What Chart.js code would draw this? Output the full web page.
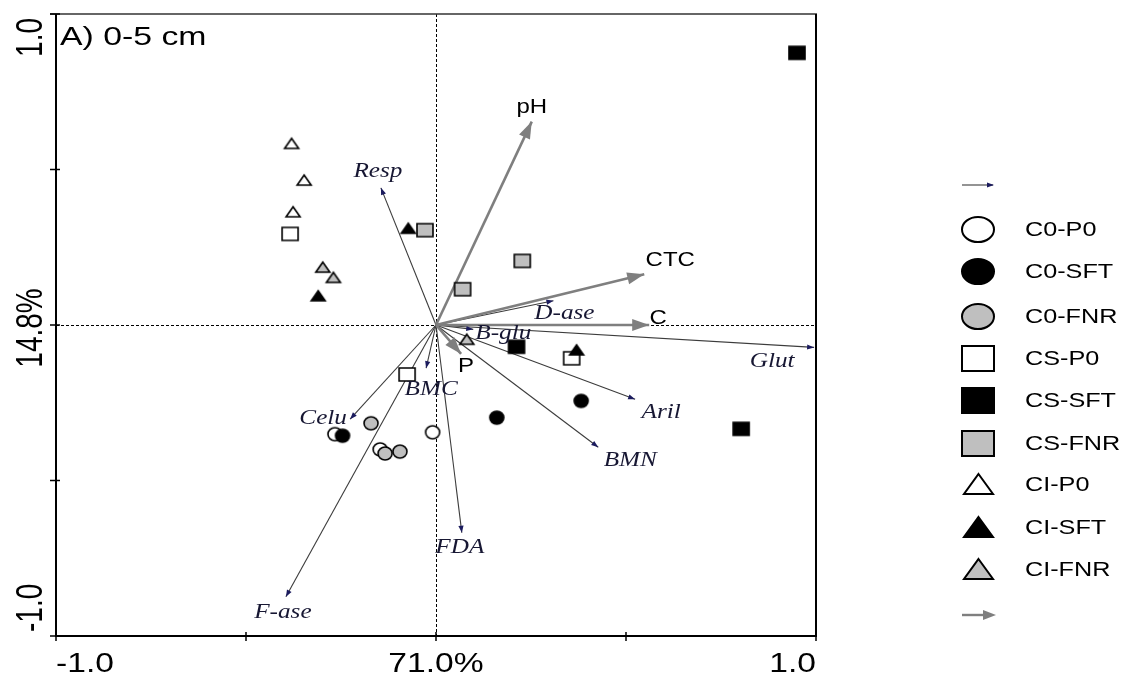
<!DOCTYPE html>
<html>
<head>
<meta charset="utf-8">
<title>A) 0-5 cm</title>
<script src="https://cdn.jsdelivr.net/npm/chart.js@4/dist/chart.umd.min.js"></script>
<style>
  html, body { margin: 0; padding: 0; background: #ffffff; }
  #wrap { width: 1121px; height: 674px; position: relative; }
  canvas { display: block; }
</style>
</head>
<body>
<div id="wrap"><canvas id="biplot" width="1121" height="674"></canvas></div>
<script>
// ---- Axis ticks ----
const axisTicks = [-1, -0.5, 0, 0.5, 1];
const xTickLabels = ['-1.0', '', '71.0%', '', '1.0'];
const yTickLabels = ['-1.0', '', '14.8%', '', '1.0'];
const panelTitle = 'A) 0-5 cm';

// ---- Sample scores (axis 1, axis 2) per treatment ----
const groupNames = ['C0-P0', 'C0-SFT', 'C0-FNR', 'CS-P0', 'CS-SFT', 'CS-FNR', 'CI-P0', 'CI-SFT', 'CI-FNR'];
const c0p0X  = [-0.009, -0.266, -0.147];
const c0p0Y  = [-0.345, -0.351, -0.400];
const c0sftX = [-0.246, 0.160, 0.382];
const c0sftY = [-0.356, -0.298, -0.244];
const c0fnrX = [-0.171, -0.134, -0.095];
const c0fnrY = [-0.316, -0.413, -0.407];
const csp0X  = [-0.384, -0.076, 0.357];
const csp0Y  = [0.293, -0.159, -0.107];
const cssftX = [0.950, 0.212, 0.803];
const cssftY = [0.875, -0.070, -0.334];
const csfnrX = [-0.029, 0.227, 0.070];
const csfnrY = [0.305, 0.206, 0.115];
const cip0X  = [-0.380, -0.347, -0.376];
const cip0Y  = [0.584, 0.466, 0.364];
const cisftX = [-0.073, -0.310, 0.370];
const cisftY = [0.311, 0.094, -0.080];
const cifnrX = [-0.298, -0.270, 0.081];
const cifnrY = [0.186, 0.153, -0.046];

// ---- Biological response variables (thin arrows) ----
const bioNames = ['Resp', 'D-ase', 'B-glu', 'Glut', 'Aril', 'BMN', 'FDA', 'F-ase', 'Celu', 'BMC'];
const bioX = [-0.145, 0.309, 0.098, 0.995, 0.524, 0.427, 0.068, -0.395, -0.226, -0.026];
const bioY = [0.441, 0.078, -0.014, -0.072, -0.239, -0.393, -0.668, -0.874, -0.303, -0.139];

// ---- Soil explanatory variables (thick grey arrows) ----
const envNames = ['pH', 'CTC', 'C', 'P'];
const envX = [0.252, 0.548, 0.561, 0.066];
const envY = [0.654, 0.163, 0.000, -0.093];

// ---- Styling ----
const GREY_FILL = '#bfbfbf';
const BIO_LINE = '#3c3c3c';
const BIO_HEAD = '#1b1b5e';
const BIO_TEXT = '#171733';
const ENV_LINE = '#7f7f7f';
const TEXT_STRETCH = 1.2;

// label placement relative to arrow tips, in pixels
const labelShift = {
  'Resp': [-3, -16], 'D-ase': [11, 13], 'B-glu': [30, 4], 'Glut': [-42, 14], 'Aril': [26, 13],
  'BMN': [32, 13], 'FDA': [-2, 15], 'F-ase': [-3, 16], 'Celu': [-27, -1], 'BMC': [5, 21],
  'pH': [0, -14], 'CTC': [26, -14], 'C': [9, -7], 'P': [5, 13]
};

const groupStyle = [
  ['circle', '#ffffff'], ['circle', '#000000'], ['circle', GREY_FILL],
  ['square', '#ffffff'], ['square', '#000000'], ['square', GREY_FILL],
  ['triangle', '#ffffff'], ['triangle', '#000000'], ['triangle', GREY_FILL]
];
const plotSize = { circle: [14, 13], square: [16, 13], triangle: [14, 10] };
const legendSize = { circle: [32, 25], square: [32, 25], triangle: [29, 20] };

function makeMarker(shape, fill, w, h, lw) {
  const pad = Math.ceil(lw) + 1;
  const cv = document.createElement('canvas');
  cv.width = w + 2 * pad;
  cv.height = h + 2 * pad;
  const g = cv.getContext('2d');
  g.fillStyle = fill;
  g.strokeStyle = '#000000';
  g.lineWidth = lw;
  g.lineJoin = 'miter';
  const cx = cv.width / 2, cy = cv.height / 2;
  g.beginPath();
  if (shape === 'circle') {
    g.ellipse(cx, cy, w / 2, h / 2, 0, 0, Math.PI * 2);
  } else if (shape === 'square') {
    g.rect(cx - w / 2, cy - h / 2, w, h);
  } else {
    g.moveTo(cx, cy - h / 2);
    g.lineTo(cx + w / 2, cy + h / 2);
    g.lineTo(cx - w / 2, cy + h / 2);
    g.closePath();
  }
  g.fill();
  g.stroke();
  return cv;
}

const groupX = [c0p0X, c0sftX, c0fnrX, csp0X, cssftX, csfnrX, cip0X, cisftX, cifnrX];
const groupY = [c0p0Y, c0sftY, c0fnrY, csp0Y, cssftY, csfnrY, cip0Y, cisftY, cifnrY];

const datasets = [];
groupNames.forEach((name, i) => {
  const [shape, fill] = groupStyle[i];
  const [w, h] = plotSize[shape];
  datasets.push({
    label: name,
    kind: 'sample',
    data: groupX[i].map((x, k) => ({ x: x, y: groupY[i][k] })),
    pointStyle: makeMarker(shape, fill, w, h, 1.6),
    pointRadius: 7,
    showLine: false,
    order: groupNames.length - i,
    clip: false
  });
});
bioNames.forEach((name, i) => {
  datasets.push({
    label: name,
    kind: 'bio',
    data: [{ x: 0, y: 0 }, { x: bioX[i], y: bioY[i] }],
    showLine: true,
    borderColor: BIO_LINE,
    borderWidth: 1.1,
    pointRadius: 0,
    order: 100,
    clip: false
  });
});
envNames.forEach((name, i) => {
  datasets.push({
    label: name,
    kind: 'env',
    data: [{ x: 0, y: 0 }, { x: envX[i], y: envY[i] }],
    showLine: true,
    borderColor: ENV_LINE,
    borderWidth: 2.6,
    pointRadius: 0,
    order: 90,
    clip: false
  });
});

// stretched text, optionally rotated a quarter turn counter-clockwise
function drawText(ctx, s, x, y, font, align, baseline, color, sx, vertical) {
  ctx.save();
  ctx.translate(x, y);
  if (vertical) {
    ctx.rotate(-Math.PI / 2);
    ctx.scale(1, sx);
  } else {
    ctx.scale(sx, 1);
  }
  ctx.font = font;
  ctx.textAlign = align;
  ctx.textBaseline = baseline;
  ctx.fillStyle = color;
  ctx.fillText(s, 0, 0);
  ctx.restore();
}

function arrowHead(ctx, x0, y0, x1, y1, len, half, color) {
  const a = Math.atan2(y1 - y0, x1 - x0);
  ctx.save();
  ctx.translate(x1, y1);
  ctx.rotate(a);
  ctx.beginPath();
  ctx.moveTo(0, 0);
  ctx.lineTo(-len, half);
  ctx.lineTo(-len, -half);
  ctx.closePath();
  ctx.fillStyle = color;
  ctx.fill();
  ctx.restore();
}

const biplotFrame = {
  id: 'biplotFrame',
  beforeDatasetsDraw(chart) {
    const { ctx, chartArea: a, scales: { x, y } } = chart;
    const x0 = x.getPixelForValue(0), y0 = y.getPixelForValue(0);
    ctx.save();
    ctx.strokeStyle = '#000000';
    ctx.lineWidth = 1;
    ctx.setLineDash([3, 2]);
    ctx.beginPath();
    ctx.moveTo(Math.round(x0) + 0.5, a.top);
    ctx.lineTo(Math.round(x0) + 0.5, a.bottom);
    ctx.moveTo(a.left, Math.round(y0) + 0.5);
    ctx.lineTo(a.right, Math.round(y0) + 0.5);
    ctx.stroke();
    ctx.setLineDash([]);

    // frame
    ctx.strokeStyle = '#333333';
    ctx.lineWidth = 1.5;
    ctx.beginPath();
    ctx.moveTo(a.left - 6, a.top);
    ctx.lineTo(a.right + 1, a.top);
    ctx.stroke();
    ctx.strokeStyle = '#000000';
    ctx.lineWidth = 2;
    ctx.beginPath();
    ctx.moveTo(a.left, a.top);
    ctx.lineTo(a.left, a.bottom + 1);
    ctx.moveTo(a.left - 1, a.bottom);
    ctx.lineTo(a.right + 1, a.bottom);
    ctx.moveTo(a.right, a.top);
    ctx.lineTo(a.right, a.bottom);
    ctx.stroke();

    // ticks crossing the axes
    ctx.lineWidth = 1.5;
    ctx.beginPath();
    axisTicks.forEach(v => {
      const py = y.getPixelForValue(v);
      ctx.moveTo(a.left - 6, py);
      ctx.lineTo(a.left + 4, py);
      const px = x.getPixelForValue(v);
      ctx.moveTo(px, a.bottom - 4);
      ctx.lineTo(px, a.bottom + 5);
    });
    ctx.stroke();

    // tick labels
    const tickFont = '28px "Liberation Sans", Arial, sans-serif';
    axisTicks.forEach((v, i) => {
      const px = x.getPixelForValue(v);
      const lab = xTickLabels[i];
      if (lab) {
        const align = i === 0 ? 'left' : (i === axisTicks.length - 1 ? 'right' : 'center');
        drawText(ctx, lab, px, 672, tickFont, align, 'alphabetic', '#000000', TEXT_STRETCH, false);
      }
      const py = y.getPixelForValue(v);
      const ylab = yTickLabels[i];
      if (ylab) {
        const align = i === 0 ? 'left' : (i === axisTicks.length - 1 ? 'right' : 'center');
        const yy = i === 0 ? py - 4 : (i === axisTicks.length - 1 ? py + 4 : py + 3);
        drawText(ctx, ylab, 41.5, yy, tickFont, align, 'alphabetic', '#000000', 1.33, true);
      }
    });

    // panel title
    drawText(ctx, panelTitle, a.left + 4, 45, '26px "Liberation Sans", Arial, sans-serif', 'left', 'alphabetic', '#000000', 1.3, false);
    ctx.restore();
  },
  afterDatasetDraw(chart, args) {
    const ds = chart.data.datasets[args.index];
    if (ds.kind !== 'bio' && ds.kind !== 'env') return;
    const pts = args.meta.data;
    const { ctx } = chart;
    if (ds.kind === 'bio') {
      arrowHead(ctx, pts[0].x, pts[0].y, pts[1].x, pts[1].y, 7, 2.6, BIO_HEAD);
    } else {
      arrowHead(ctx, pts[0].x, pts[0].y, pts[1].x, pts[1].y, 17, 6, ENV_LINE);
    }
  },
  afterDatasetsDraw(chart) {
    const { ctx } = chart;
    chart.data.datasets.forEach((ds, i) => {
      if (ds.kind !== 'bio' && ds.kind !== 'env') return;
      const tip = chart.getDatasetMeta(i).data[1];
      const [dx, dy] = labelShift[ds.label] || [0, 0];
      if (ds.kind === 'bio') {
        drawText(ctx, ds.label, tip.x + dx, tip.y + dy, 'italic 21px "Liberation Serif", "Times New Roman", serif',
          'center', 'middle', BIO_TEXT, TEXT_STRETCH, false);
      } else {
        drawText(ctx, ds.label, tip.x + dx, tip.y + dy, '20px "Liberation Sans", Arial, sans-serif',
          'center', 'middle', '#000000', TEXT_STRETCH, false);
      }
    });
  },
  afterDraw(chart) {
    // key at the right-hand side
    const { ctx } = chart;
    const mx = 978, tx = 1025;
    const rows = [229, 271, 316, 358, 400, 443, 484, 527, 569];
    ctx.save();
    // thin arrow key
    ctx.strokeStyle = BIO_LINE;
    ctx.lineWidth = 1.1;
    ctx.beginPath();
    ctx.moveTo(962, 185);
    ctx.lineTo(993, 185);
    ctx.stroke();
    arrowHead(ctx, 962, 185, 994, 185, 7, 2.6, BIO_HEAD);
    groupNames.forEach((name, i) => {
      const [shape, fill] = groupStyle[i];
      const [w, h] = legendSize[shape];
      const m = makeMarker(shape, fill, w, h, 2);
      ctx.drawImage(m, Math.round(mx - m.width / 2), Math.round(rows[i] - m.height / 2));
      drawText(ctx, name, tx, rows[i] + 1, '21px "Liberation Sans", Arial, sans-serif', 'left', 'middle', '#000000', TEXT_STRETCH, false);
    });
    // thick grey arrow key
    ctx.strokeStyle = ENV_LINE;
    ctx.lineWidth = 2.4;
    ctx.beginPath();
    ctx.moveTo(962, 615);
    ctx.lineTo(984, 615);
    ctx.stroke();
    arrowHead(ctx, 962, 615, 996, 615, 13, 5, ENV_LINE);
    ctx.restore();
  }
};

new Chart(document.getElementById('biplot'), {
  type: 'scatter',
  data: { datasets: datasets },
  options: {
    responsive: false,
    devicePixelRatio: 1,
    animation: false,
    events: [],
    layout: { padding: { left: 56, top: 14, right: 305, bottom: 38 } },
    scales: {
      x: { type: 'linear', min: -1, max: 1, display: false },
      y: { type: 'linear', min: -1, max: 1, display: false }
    },
    plugins: {
      legend: { display: false },
      tooltip: { enabled: false }
    }
  },
  plugins: [biplotFrame]
});
</script>
</body>
</html>
